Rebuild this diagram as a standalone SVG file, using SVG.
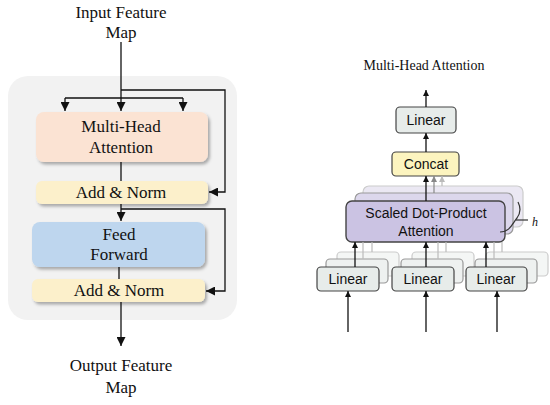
<svg xmlns="http://www.w3.org/2000/svg" width="550" height="405" viewBox="0 0 550 405">
<defs>
<style>
.t{font-family:"Liberation Serif","Times New Roman",serif;fill:#111;text-anchor:middle}
.s{font-family:"Liberation Sans",Arial,sans-serif;fill:#111;text-anchor:middle}
.ln{stroke:#111;stroke-width:1.3;fill:none}
.lg{stroke:#555;stroke-width:1.3;fill:none}
.rb{stroke:#444;stroke-width:1.2}
</style>
<marker id="ah" viewBox="0 0 10 10" refX="10" refY="5" markerWidth="9" markerHeight="9" markerUnits="userSpaceOnUse" orient="auto"><path d="M0,0L10,5L0,10z" fill="#111"/></marker>
<marker id="as" viewBox="0 0 10 10" refX="10" refY="5" markerWidth="6" markerHeight="6" markerUnits="userSpaceOnUse" orient="auto"><path d="M0,0L10,5L0,10z" fill="#111"/></marker>
<marker id="ag" viewBox="0 0 10 10" refX="10" refY="5" markerWidth="6" markerHeight="6" markerUnits="userSpaceOnUse" orient="auto"><path d="M0,0L10,5L0,10z" fill="#888"/></marker>
<marker id="al" viewBox="0 0 10 10" refX="10" refY="5" markerWidth="6" markerHeight="6" markerUnits="userSpaceOnUse" orient="auto"><path d="M0,0L10,5L0,10z" fill="#bbb"/></marker>
<filter id="sh" x="-10%" y="-20%" width="130%" height="160%"><feDropShadow dx="2" dy="2.5" stdDeviation="1.5" flood-color="#000" flood-opacity="0.3"/></filter>
</defs>

<!-- Left panel -->
<rect x="8" y="76" width="229" height="244" rx="20" fill="#f2f2f2"/>
<text class="t" x="121" y="18" font-size="17">Input Feature</text>
<text class="t" x="121" y="38" font-size="17">Map</text>

<g id="mha"><rect x="36" y="112" width="172" height="50" rx="8" fill="#fbe3d3" filter="url(#sh)"/>
<text class="t" x="121" y="132" font-size="17">Multi-Head</text><text class="t" x="121" y="153" font-size="17">Attention</text></g>
<g id="addnorm1"><rect x="36" y="181" width="172" height="23" rx="6" fill="#fcf0cb" filter="url(#sh)"/>
<text class="t" x="121" y="198" font-size="17">Add &amp; Norm</text></g>
<g id="ff"><rect x="32" y="222" width="173" height="45" rx="8" fill="#bed6ee" filter="url(#sh)"/>
<text class="t" x="119" y="240" font-size="17">Feed</text><text class="t" x="119" y="260" font-size="17">Forward</text></g>
<g id="addnorm2"><rect x="32" y="279" width="173" height="23" rx="6" fill="#fcf0cb" filter="url(#sh)"/>
<text class="t" x="119" y="296" font-size="17">Add &amp; Norm</text></g>
<text class="t" x="121" y="371" font-size="17">Output Feature</text>
<text class="t" x="121" y="393" font-size="17">Map</text>

<g id="left-connectors">
<path class="ln" d="M121,42V98"/>
<path class="ln" d="M65,98H183"/>
<path class="ln" d="M65,98V111" marker-end="url(#ah)"/>
<path class="ln" d="M121,98V111" marker-end="url(#ah)"/>
<path class="ln" d="M183,98V111" marker-end="url(#ah)"/>
<path class="ln" d="M121,90H225V192H209" marker-end="url(#ah)"/>
<path class="ln" d="M121,162V181"/>
<path class="ln" d="M121,204V221" marker-end="url(#ah)"/>
<path class="ln" d="M121,209H225V291H206" marker-end="url(#ah)"/>
<path class="ln" d="M119,267V279"/>
<path class="ln" d="M121,302V346" marker-end="url(#ah)"/>
</g>

<!-- Right panel -->
<text class="t" x="424" y="70" font-size="14">Multi-Head Attention</text>

<g id="sdpa">
<rect x="363" y="186" width="160" height="41" rx="6" fill="#ebe8f3" stroke="#ccc" stroke-width="1.2"/>
<rect x="355" y="193" width="158" height="41" rx="6" fill="#dcd7ec" stroke="#999" stroke-width="1.2"/>
<rect x="346" y="201" width="159" height="41" rx="6" fill="#cbc3e3" stroke="#444" stroke-width="1.4"/>
<text class="s" x="426" y="218" font-size="14">Scaled Dot-Product</text>
<text class="s" x="426" y="236" font-size="14">Attention</text>
<path d="M500,232C510,232 512,224 517,218C520,214 521,208 518,202" stroke="#333" stroke-width="1.2" fill="none"/>
<path d="M516,220H528" stroke="#333" stroke-width="1.2"/>
<text x="535" y="226" font-family="Liberation Serif,serif" font-style="italic" font-size="12" fill="#111" text-anchor="middle">h</text>
</g>

<g id="lin-top"><rect class="rb" x="396" y="107" width="60" height="26" rx="4" fill="#e7ecea"/>
<text class="s" x="426" y="125" font-size="14">Linear</text></g>
<g id="concat"><rect class="rb" x="392" y="152" width="67" height="24" rx="4" fill="#fcf4bf"/>
<text class="s" x="426" y="169" font-size="14">Concat</text></g>

<g id="lin-q">
<rect x="337" y="252" width="62" height="24" rx="4" fill="#f4f6f5" stroke="#ccc" stroke-width="1.2"/>
<rect x="326" y="259" width="62" height="24" rx="4" fill="#eef1f0" stroke="#999" stroke-width="1.2"/>
<rect class="rb" x="317" y="267" width="62" height="24" rx="4" fill="#e7ecea"/>
<text class="s" x="348" y="284" font-size="14">Linear</text></g>
<g id="lin-k">
<rect x="412" y="252" width="62" height="24" rx="4" fill="#f4f6f5" stroke="#ccc" stroke-width="1.2"/>
<rect x="401" y="259" width="62" height="24" rx="4" fill="#eef1f0" stroke="#999" stroke-width="1.2"/>
<rect class="rb" x="392" y="267" width="62" height="24" rx="4" fill="#e7ecea"/>
<text class="s" x="423" y="284" font-size="14">Linear</text></g>
<g id="lin-v">
<rect x="486" y="252" width="62" height="24" rx="4" fill="#f4f6f5" stroke="#ccc" stroke-width="1.2"/>
<rect x="475" y="259" width="62" height="24" rx="4" fill="#eef1f0" stroke="#999" stroke-width="1.2"/>
<rect class="rb" x="466" y="267" width="61" height="24" rx="4" fill="#e7ecea"/>
<text class="s" x="496" y="284" font-size="14">Linear</text></g>

<g id="right-connectors">
<path class="ln" d="M426,107V90" marker-end="url(#as)"/>
<path class="ln" d="M426,152V133" marker-end="url(#as)"/>
<path d="M442,186V176" stroke="#bbb" stroke-width="1.2" marker-end="url(#al)"/>
<path d="M434,193V176" stroke="#888" stroke-width="1.2" marker-end="url(#ag)"/>
<path class="ln" d="M426,201V176" marker-end="url(#as)"/>
<path d="M363,259V242M372,252V242M438,259V242M446,252V242M494,259V242M502,252V242" stroke="#bbb" stroke-width="1.2"/>
<path class="ln" d="M355,267V242" marker-end="url(#as)"/>
<path class="ln" d="M426,267V242" marker-end="url(#as)"/>
<path class="ln" d="M486,267V242" marker-end="url(#as)"/>
<path class="ln" d="M348,332V291" marker-end="url(#as)"/>
<path class="ln" d="M426,332V291" marker-end="url(#as)"/>
<path class="ln" d="M497,332V291" marker-end="url(#as)"/>
</g>
</svg>
